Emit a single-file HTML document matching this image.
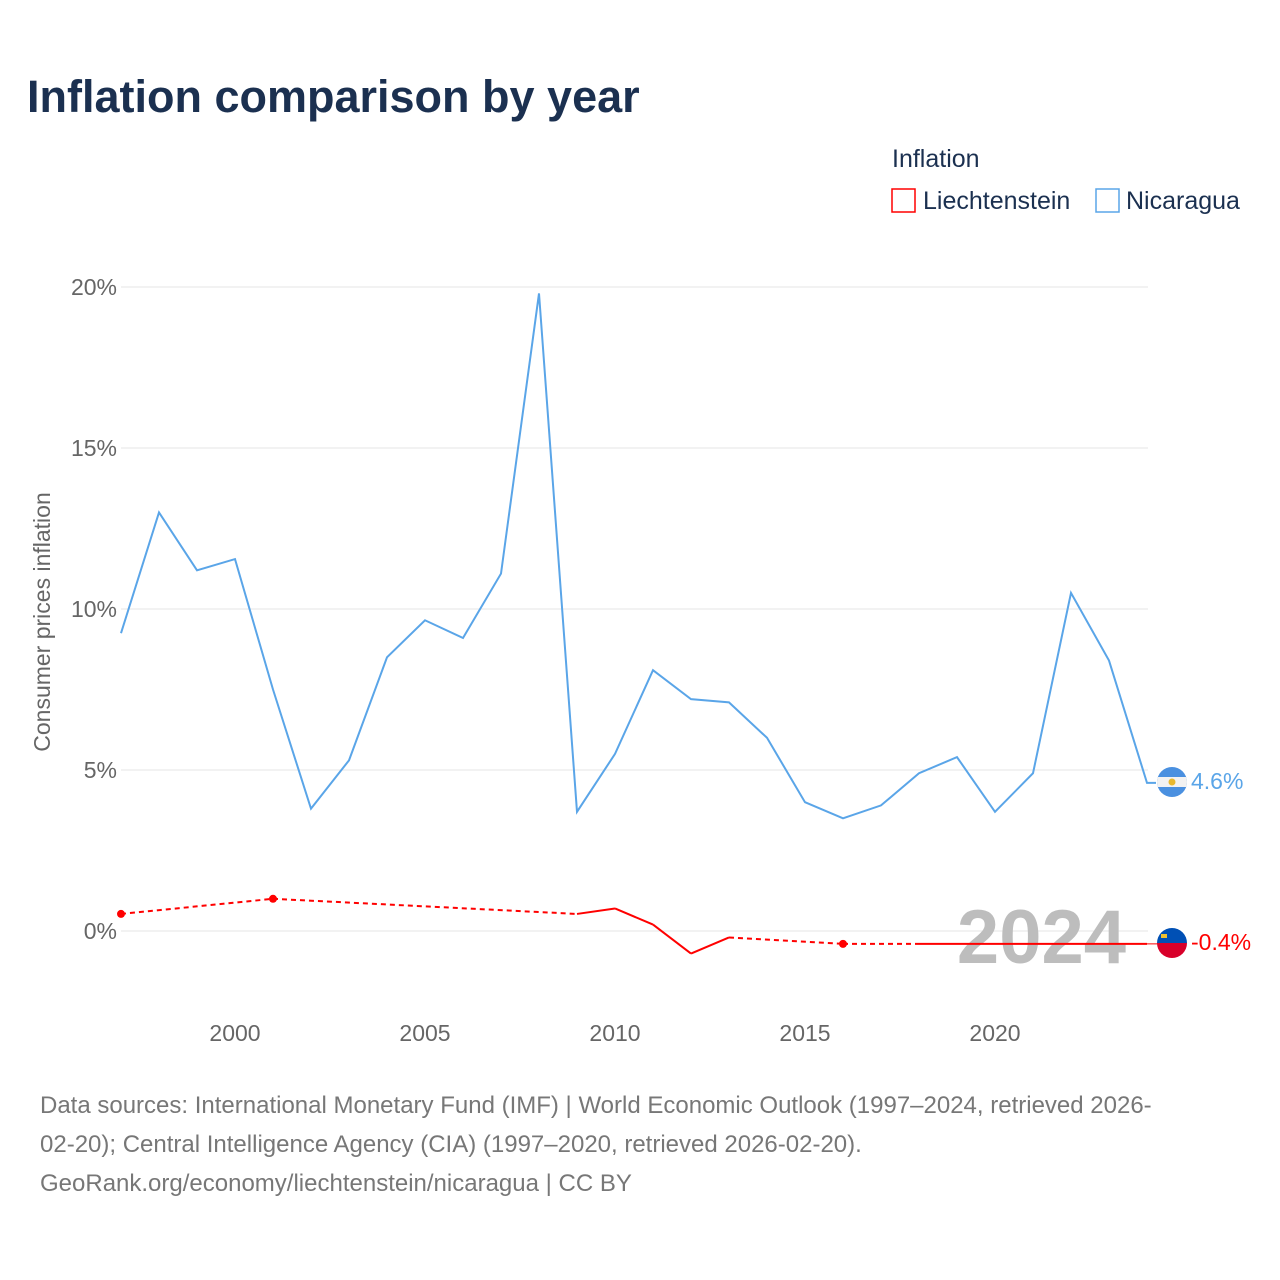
<!DOCTYPE html>
<html><head><meta charset="utf-8">
<style>
body{margin:0;background:#fff;font-family:"Liberation Sans",sans-serif;}
#wrap{position:relative;width:1280px;height:1280px;overflow:hidden;}
</style></head>
<body>
<div id="wrap">
<svg id="chart" width="1280" height="1280" viewBox="0 0 1280 1280">
<text x="27" y="112" font-size="45" font-weight="bold" fill="#1b3050">Inflation comparison by year</text>
<text x="892" y="167" font-size="25" fill="#1b3050">Inflation</text>
<g>
<rect x="892" y="189" width="23" height="23" fill="none" stroke="#ff0000" stroke-width="1.5"/>
<text x="923" y="209" font-size="25" fill="#1b3050">Liechtenstein</text></g>
<g>
<rect x="1096" y="189" width="23" height="23" fill="none" stroke="#5aa5e8" stroke-width="1.5"/>
<text x="1126" y="209" font-size="25" fill="#1b3050">Nicaragua</text></g>
<text transform="translate(50,622) rotate(-90)" text-anchor="middle" font-size="23" fill="#666">Consumer prices inflation</text>
<g id="grid"></g><g id="yt"></g><g id="xt"></g>
<text x="1126" y="963" text-anchor="end" font-size="76" font-weight="bold" fill="#bdbdbd">2024</text>
<g id="series"></g>
<g>
<clipPath id="c1"><circle cx="1172" cy="782" r="15"/></clipPath>
<g clip-path="url(#c1)"><rect x="1157" y="767" width="30" height="30" fill="#4a90e0"/><rect x="1157" y="777" width="30" height="10" fill="#f2f2f2"/><circle cx="1172" cy="782" r="3.5" fill="#e8b830"/></g></g>
<text x="1191" y="789" font-size="23" fill="#5aa5e8">4.6%</text>
<g>
<clipPath id="c2"><circle cx="1172" cy="943" r="15"/></clipPath>
<g clip-path="url(#c2)"><rect x="1157" y="928" width="30" height="15" fill="#0050b5"/><rect x="1157" y="943" width="30" height="15" fill="#d8002a"/><rect x="1161" y="934" width="6" height="4" fill="#f0c030"/></g></g>
<text x="1191" y="950" font-size="23" fill="#ff0000">-0.4%</text>
<text font-size="24" fill="#777">
<tspan x="40" y="1113">Data sources: International Monetary Fund (IMF) | World Economic Outlook (1997–2024, retrieved 2026-</tspan>
<tspan x="40" y="1152">02-20); Central Intelligence Agency (CIA) (1997–2020, retrieved 2026-02-20).</tspan>
<tspan x="40" y="1191">GeoRank.org/economy/liechtenstein/nicaragua | CC BY</tspan></text>
</svg>
</div>
<script>
const years=[1997,1998,1999,2000,2001,2002,2003,2004,2005,2006,2007,2008,2009,2010,2011,2012,2013,2014,2015,2016,2017,2018,2019,2020,2021,2022,2023,2024];
const nicaragua=[9.25,13.0,11.2,11.55,7.5,3.8,5.3,8.5,9.65,9.1,11.1,19.8,3.7,5.5,8.1,7.2,7.1,6.0,4.0,3.5,3.9,4.9,5.4,3.7,4.9,10.5,8.4,4.6];
const liechtenstein=[0.53,null,null,null,1.0,null,null,null,null,null,null,null,0.53,0.7,0.2,-0.7,-0.2,null,null,-0.4,null,-0.4,-0.4,-0.4,-0.4,-0.4,-0.4,-0.4];
const yTicks=[0,5,10,15,20];
const yTickLabels=["0%","5%","10%","15%","20%"];
const xTicks=[2000,2005,2010,2015,2020];
const NS="http://www.w3.org/2000/svg";
function X(y){return 121+(y-1997)*38;}
function Y(v){return 931-v*32.2;}
function mk(t,a,p){const e=document.createElementNS(NS,t);for(const k in a)e.setAttribute(k,a[k]);p.appendChild(e);return e;}
const grid=document.getElementById('grid'),yt=document.getElementById('yt'),xt=document.getElementById('xt'),ser=document.getElementById('series');
yTicks.forEach((v,i)=>{
 const l=mk('line',{x1:121,x2:1148,y1:Y(v),y2:Y(v),stroke:'#e6e6e6','stroke-width':1},grid);
 
 
 const t=mk('text',{x:117,y:Y(v)+8,'text-anchor':'end','font-size':23,fill:'#666'},yt);
 t.textContent=yTickLabels[i];
 
 
});
xTicks.forEach(v=>{
 const t=mk('text',{x:X(v),y:1041,'text-anchor':'middle','font-size':23,fill:'#666'},xt);
 t.textContent=v;
 
 
});
// Nicaragua
let d=years.map((y,i)=>(i?'L':'M')+X(y)+','+Y(nicaragua[i])).join(' ');
d+=' L'+(X(2024)+9)+','+Y(nicaragua[nicaragua.length-1]);
const nl=mk('path',{d:d,fill:'none',stroke:'#5aa5e8','stroke-width':2},ser);


// Liechtenstein
const g=mk('g',{},ser);


let prev=-1;
liechtenstein.forEach((v,i)=>{
 if(v===null)return;
 if(prev>=0){
  const dash=(i-prev>1);
  const s=mk('line',{x1:X(years[prev]),y1:Y(liechtenstein[prev]),x2:X(years[i]),y2:Y(v),stroke:'#ff0000','stroke-width':2},g);
  if(dash)s.setAttribute('stroke-dasharray','5,4');
  
  
 }
 const hasPrev=i>0&&liechtenstein[i-1]!==null, hasNext=i<liechtenstein.length-1&&liechtenstein[i+1]!==null;
 if(!hasPrev&&!hasNext){
  const c=mk('circle',{cx:X(years[i]),cy:Y(v),r:4,fill:'#ff0000'},g);
  
  
 }
 prev=i;
});
const last=liechtenstein[liechtenstein.length-1];
const ext=mk('line',{x1:X(2024),y1:Y(last),x2:1158,y2:Y(last),stroke:'#ff0000','stroke-width':1},g);


</script>
</body></html>
